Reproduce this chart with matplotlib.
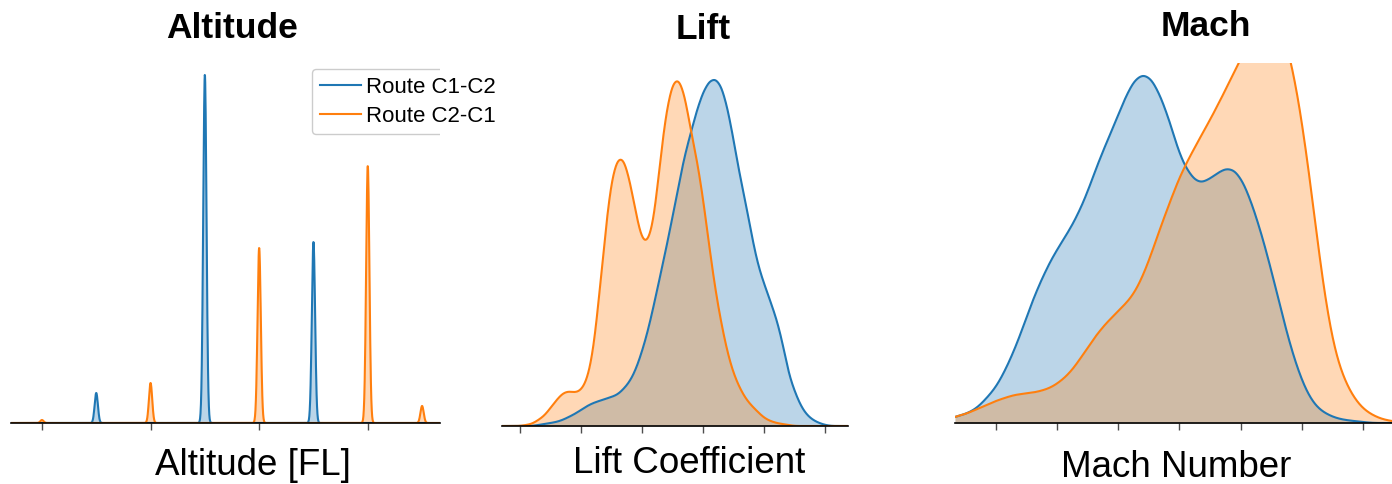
import matplotlib
matplotlib.use("Agg")
import matplotlib.pyplot as plt
import numpy as np

plt.rcParams["font.family"] = ["Liberation Sans", "DejaVu Sans"]

BLUE = "#1f77b4"
ORANGE = "#ff7f0e"
ROUTES = ["Route C1-C2", "Route C2-C1"]

# -- altitude: flights per flight level ---------------------------------------
ALT_LEVELS_C1C2 = [310, 330, 350]
ALT_COUNTS_C1C2 = [30, 348, 181]
ALT_LEVELS_C2C1 = [300, 320, 340, 360, 370]
ALT_COUNTS_C2C1 = [3, 40, 175, 257, 17]

# -- lift coefficient: binned samples (bin width 0.01) -------------------------
LIFT_BINS = np.round(np.arange(0.30, 0.805, 0.01), 2)
LIFT_COUNTS_C1C2 = [0, 0, 0, 1, 2, 3, 4, 6, 9, 12, 16, 20, 23, 25, 27, 29, 31,
                    37, 44, 56, 74, 95, 122, 150, 178, 208, 240, 270, 292, 315,
                    333, 344, 347, 340, 318, 286, 250, 223, 189, 160, 142, 125,
                    108, 85, 52, 35, 20, 11, 6, 3, 1]
LIFT_COUNTS_C2C1 = [0, 1, 2, 6, 10, 18, 26, 33, 35, 33, 35, 45, 72, 130, 195,
                    247, 268, 268, 245, 212, 183, 182, 205, 267, 315, 343, 348,
                    331, 294, 266, 228, 180, 136, 102, 73, 52, 38, 27, 20, 14,
                    8, 5, 3, 2, 1, 0, 0, 0, 0, 0, 0]

# -- mach number: binned samples (bin width 0.003) ------------------------------
MACH_BINS = np.round(np.arange(0.685, 0.8335, 0.003), 3)
MACH_COUNTS_C1C2 = [5, 7, 10, 15, 25, 35, 52, 72, 96, 122, 143, 162, 177, 191,
                    208, 229, 255, 277, 298, 321, 340, 347, 342, 323, 298, 265,
                    248, 237, 240, 247, 253, 252, 239, 215, 186, 152, 115, 79,
                    50, 28, 15, 9, 5, 3, 2, 1, 0, 0, 0, 0]
MACH_COUNTS_C2C1 = [5, 7, 10, 14, 18, 22, 25, 28, 29, 30, 32, 35, 41, 49, 61,
                    75, 88, 99, 108, 117, 127, 145, 169, 196, 220, 244, 262,
                    279, 295, 312, 330, 349, 367, 385, 396, 400, 394, 367, 320,
                    258, 183, 115, 68, 42, 25, 14, 8, 4, 2, 1]


def smooth_density(grid, values, counts, bw, total):
    """Gaussian KDE of weighted samples, normalised over both routes."""
    values = np.asarray(values, dtype=float)
    counts = np.asarray(counts, dtype=float)
    z = (grid[:, None] - values[None, :]) / bw
    return (np.exp(-0.5 * z ** 2) @ counts) / (total * bw * np.sqrt(2 * np.pi))


def draw_panel(ax, xlim, ticks, series, bw, top_ratio, peak_from=None):
    grid = np.linspace(xlim[0], xlim[1], 2000)
    total = sum(np.sum(c) for _, c, _ in series)
    curves = []
    for values, counts, color in series:
        d = smooth_density(grid, values, counts, bw, total)
        ax.fill_between(grid, d, color=color, alpha=0.3, lw=0)
        ax.plot(grid, d, color=color, lw=1.5)
        curves.append(d)
    peak = max(c.max() for c in curves) if peak_from is None else curves[peak_from].max()
    ax.set_xlim(*xlim)
    ax.set_ylim(0, peak * top_ratio)
    ax.set_xticks(ticks)
    ax.tick_params(axis="x", labelbottom=False, length=5, width=1, color="0.3")
    ax.set_yticks([])
    for side in ("left", "right", "top"):
        ax.spines[side].set_visible(False)
    ax.spines["bottom"].set_linewidth(1.2)
    ax.patch.set_alpha(0)


W, H = 1392, 484
fig = plt.figure(figsize=(W / 100, H / 100), dpi=100)


def px_axes(x0, x1, y_top, y_bottom):
    return fig.add_axes([x0 / W, 1 - y_bottom / H, (x1 - x0) / W, (y_bottom - y_top) / H])


ax_alt = px_axes(11, 440, 63, 423)
ax_lift = px_axes(502, 848, 63, 426)
ax_mach = px_axes(955, 1392, 63, 423)

draw_panel(ax_alt, (294.3, 373.3), [300, 320, 340, 360],
           [(ALT_LEVELS_C1C2, ALT_COUNTS_C1C2, BLUE),
            (ALT_LEVELS_C2C1, ALT_COUNTS_C2C1, ORANGE)],
           bw=0.3, top_ratio=360 / 348)
draw_panel(ax_lift, (0.2705, 0.8377), [0.3, 0.4, 0.5, 0.6, 0.7, 0.8],
           [(LIFT_BINS, LIFT_COUNTS_C1C2, BLUE),
            (LIFT_BINS, LIFT_COUNTS_C2C1, ORANGE)],
           bw=0.007, top_ratio=363 / 346)
draw_panel(ax_mach, (0.6866, 0.8295), [0.70, 0.72, 0.74, 0.76, 0.78, 0.80, 0.82],
           [(MACH_BINS, MACH_COUNTS_C1C2, BLUE),
            (MACH_BINS, MACH_COUNTS_C2C1, ORANGE)],
           bw=0.0021, top_ratio=360 / 347, peak_from=0)

leg = ax_alt.legend(ax_alt.lines, ROUTES, loc="upper left",
                    bbox_to_anchor=((312 - 11) / 429, (423 - 69) / 360),
                    borderaxespad=0, fontsize=16, labelspacing=0.35,
                    borderpad=0.35, handlelength=1.85, handletextpad=0.25,
                    framealpha=1)
leg.get_frame().set_clip_on(True)
leg.get_frame().set_clip_box(ax_alt.bbox)


def fig_text(x, y, s, **kw):
    fig.text(x / W, 1 - y / H, s, ha="center", va="baseline", **kw)


fig_text(232, 38, "Altitude", fontsize=25.5, fontweight="bold")
fig_text(703, 39, "Lift", fontsize=25.5, fontweight="bold")
fig_text(1206, 36, "Mach", fontsize=25.5, fontweight="bold")
fig_text(253, 475, "Altitude [FL]", fontsize=26.5)
fig_text(689, 473, "Lift Coefficient", fontsize=26.5)
fig_text(1176, 477, "Mach Number", fontsize=26.5)

fig.savefig("out.png", dpi=100)
